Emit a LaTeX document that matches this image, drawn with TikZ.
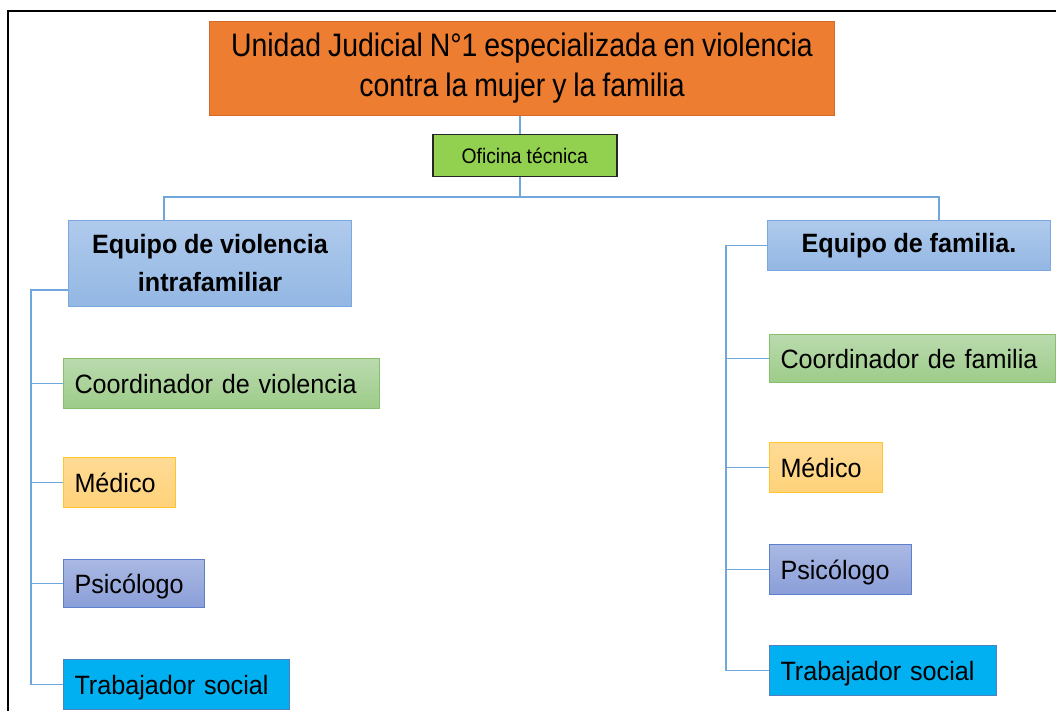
\documentclass[tikz,border=0pt]{standalone}
\usepackage{fontspec}
\setmainfont{Liberation Sans}
\newfontfamily\titlefont[FakeStretch=0.875,WordSpace=0.875]{Liberation Sans}
\newfontfamily\ofifont[FakeStretch=0.92,WordSpace=0.92]{Liberation Sans}
\newfontfamily\boxfont[FakeStretch=0.95,WordSpace=0.95]{Liberation Sans}
\definecolor{connc}{HTML}{6FA6DC}
\definecolor{orfill}{HTML}{ED7D31}
\definecolor{ordraw}{HTML}{D4692A}
\definecolor{ofill}{HTML}{92D050}
\definecolor{teamtop}{HTML}{AFCAEC}
\definecolor{teambot}{HTML}{93B7E3}
\definecolor{teamdraw}{HTML}{7BA8DE}
\definecolor{cotop}{HTML}{BADAAE}
\definecolor{cobot}{HTML}{9DCC89}
\definecolor{codraw}{HTML}{86C06D}
\definecolor{metop}{HTML}{FFDB96}
\definecolor{mebot}{HTML}{FFD27A}
\definecolor{medraw}{HTML}{FFC52A}
\definecolor{pstop}{HTML}{AAB9E3}
\definecolor{psbot}{HTML}{8A9ED8}
\definecolor{psdraw}{HTML}{5E7FCB}
\definecolor{trfill}{HTML}{00B0F0}
\definecolor{trdraw}{HTML}{4F81BD}
\begin{document}
\begin{tikzpicture}[x=1pt,y=-1pt,
  conn/.style={draw=connc, line width=1.4pt},
  basebox/.style={rectangle, line width=1pt, inner sep=0pt, anchor=north west},
  child/.style={basebox, inner xsep=11pt, align=left,
    font=\boxfont\fontsize{26.5}{30}\selectfont, text height=19pt, text depth=0pt},
  coordbox/.style={child, draw=codraw, top color=cotop, bottom color=cobot},
  medbox/.style={child, draw=medraw, top color=metop, bottom color=mebot},
  psibox/.style={child, draw=psdraw, top color=pstop, bottom color=psbot},
  trabbox/.style={child, draw=trdraw, fill=trfill},
  teambox/.style={basebox, draw=teamdraw, top color=teamtop, bottom color=teambot,
    align=center, font=\boxfont\fontsize{26.5}{38}\selectfont\bfseries}
]
\useasboundingbox (0,0) rectangle (1056,711);
% outer frame
\draw[line width=2pt, black] (8,730) -- (8,11) -- (1080,11);

% top
\node[basebox, draw=ordraw, fill=orfill, minimum width=625pt, minimum height=94pt,
  align=center, font=\titlefont\fontsize{32.5}{40}\selectfont] (title) at (209,21)
  {Unidad Judicial N°1 especializada en violencia\\contra la mujer y la familia};
\node[basebox, draw=black!85, line width=1.5pt, fill=ofill, minimum width=184pt,
  minimum height=42pt, font=\ofifont\fontsize{21}{24}\selectfont] (ofi) at (432,134)
  {Oficina técnica};

% teams
\node[teambox, minimum width=283pt, minimum height=86pt] (teamL) at (68,220)
  {Equipo de violencia\\intrafamiliar};
\node[teambox, minimum width=283pt, minimum height=50pt] (teamR) at (767,220)
  {Equipo de familia.};

% left children
\node[coordbox, text width=294pt, minimum height=50pt] (coordL) at (63,358) {Coordinador de violencia};
\node[medbox, text width=90pt, minimum height=50pt] (medL) at (63,457) {Médico};
\node[psibox, text width=119pt, minimum height=48pt] (psiL) at (63,559) {Psicólogo};
\node[trabbox, text width=204pt, minimum height=50pt] (trabL) at (63,659) {Trabajador social};

% right children
\node[coordbox, text width=264pt, minimum height=48pt] (coordR) at (769,334) {Coordinador de familia};
\node[medbox, text width=91pt, minimum height=50pt] (medR) at (769,442) {Médico};
\node[psibox, text width=120pt, minimum height=50pt] (psiR) at (769,544) {Psicólogo};
\node[trabbox, text width=205pt, minimum height=50pt] (trabR) at (769,645) {Trabajador social};

% connectors
\coordinate (bus) at (520,197);
\coordinate (dL) at (164,197);
\coordinate (dR) at (939,197);
\coordinate (sL) at (31,0);
\coordinate (sR) at (726,0);
\draw[conn] (bus |- title.south) -- (bus |- ofi.north);
\draw[conn] (bus |- ofi.south) -- (bus);
\draw[conn] (dL |- teamL.north) -- (dL) -- (dR) -- (dR |- teamR.north);

\draw[conn] ([yshift=17pt]teamL.south west) -| (sL |- trabL.west) -- (trabL.west);
\draw[conn] (coordL.west) -- (coordL.west -| sL);
\draw[conn] (medL.west) -- (medL.west -| sL);
\draw[conn] (psiL.west) -- (psiL.west -| sL);

\draw[conn] (teamR.west) -| (sR |- trabR.west) -- (trabR.west);
\draw[conn] (coordR.west) -- (coordR.west -| sR);
\draw[conn] (medR.west) -- (medR.west -| sR);
\draw[conn] (psiR.west) -- (psiR.west -| sR);
\end{tikzpicture}
\end{document}
